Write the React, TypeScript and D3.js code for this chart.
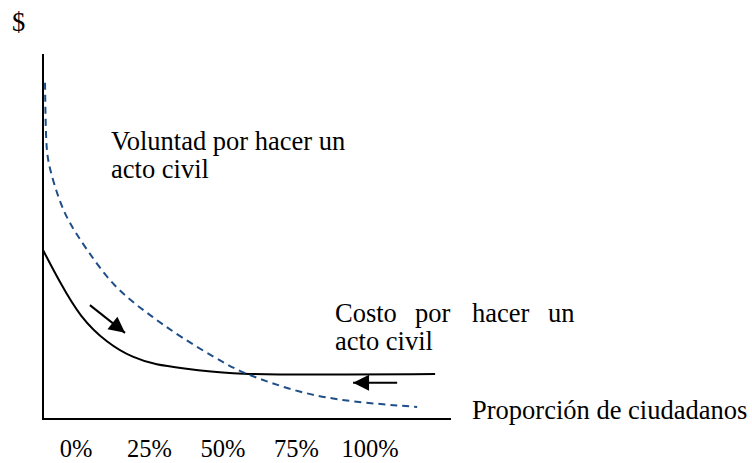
import * as d3 from "d3";

// Curve readings, x = share of the axis length (0-100), y = $ (0-100)
const willX = [0.5, 0.7, 1.5, 3.9, 6.4, 10.5, 17.2, 25.5, 33.6, 45.1, 50.2, 63.0, 75.2, 91.7];
const willY = [92.1, 74.5, 69.0, 60.0, 53.7, 46.8, 36.2, 29.0, 22.5, 14.8, 12.1, 7.1, 4.7, 3.3];

const costX = [0, 4.2, 9.1, 15.7, 22.1, 27.9, 33.6, 45.8, 63.0, 96.1];
const costY = [46.3, 37.3, 27.9, 20.8, 16.7, 14.8, 14.0, 12.3, 12.1, 12.3];

// arrows: [x0, y0, x1, y1] in data units
const arrows = [
  [11.5, 31.2, 20.1, 23.6],
  [86.8, 9.9, 76.0, 9.9],
];

const tickLabels = ["0%", "25%", "50%", "75%", "100%"];

const W = 752;
const H = 463;
const FONT = "'Liberation Serif', 'Times New Roman', serif";

export default function App() {
  const x = d3.scaleLinear().domain([0, 100]).range([43, 451]);
  const y = d3.scaleLinear().domain([0, 100]).range([419, 54]);
  const tickPos = d3.scalePoint<string>().domain(tickLabels).range([76, 370]);

  // smooth the hand-read points
  const line = d3
    .line<[number, number]>()
    .x((d) => x(d[0]))
    .y((d) => y(d[1]))
    .curve(d3.curveBasis);

  const will = willX.map((v, i) => [v, willY[i]] as [number, number]);
  const cost = costX.map((v, i) => [v, costY[i]] as [number, number]);

  return (
    <svg
      width={W}
      height={H}
      style={{ position: "absolute", left: 0, top: 0, background: "#fff" }}
      fontFamily={FONT}
      fontSize={26.5}
    >
      {/* axes */}
      <line x1={x(0)} x2={x(0)} y1={y(100)} y2={y(0) + 1} stroke="#000" strokeWidth={2} />
      <line x1={x(0)} x2={x(100)} y1={y(0)} y2={y(0)} stroke="#000" strokeWidth={2} />

      <path d={line(cost) ?? ""} fill="none" stroke="#000" strokeWidth={2} />
      <path
        d={line(will) ?? ""}
        fill="none"
        stroke="#1F4E89"
        strokeWidth={2}
        strokeDasharray="7 5"
      />

      {arrows.map((a, i) => {
        const ang = (Math.atan2(y(a[3]) - y(a[1]), x(a[2]) - x(a[0])) * 180) / Math.PI;
        return (
          <g key={i}>
            <line
              x1={x(a[0])}
              y1={y(a[1])}
              x2={x(a[2])}
              y2={y(a[3])}
              stroke="#000"
              strokeWidth={2}
            />
            <path
              d="M0,0 L-16,-8 L-16,8 z"
              fill="#000"
              transform={`translate(${x(a[2])},${y(a[3])}) rotate(${ang})`}
            />
          </g>
        );
      })}

      <text x={12} y={31}>$</text>

      <text x={111} y={150}>Voluntad por hacer un</text>
      <text x={111} y={178}>acto civil</text>

      <text y={322}>
        <tspan x={335}>Costo</tspan>
        <tspan x={415}>por</tspan>
        <tspan x={472}>hacer</tspan>
        <tspan x={548}>un</tspan>
      </text>
      <text x={335} y={350}>acto civil</text>

      <text x={472} y={419}>Proporción de ciudadanos</text>

      {tickLabels.map((t) => (
        <text key={t} x={tickPos(t)} y={457} textAnchor="middle" fontSize={24.5}>
          {t}
        </text>
      ))}
    </svg>
  );
}
